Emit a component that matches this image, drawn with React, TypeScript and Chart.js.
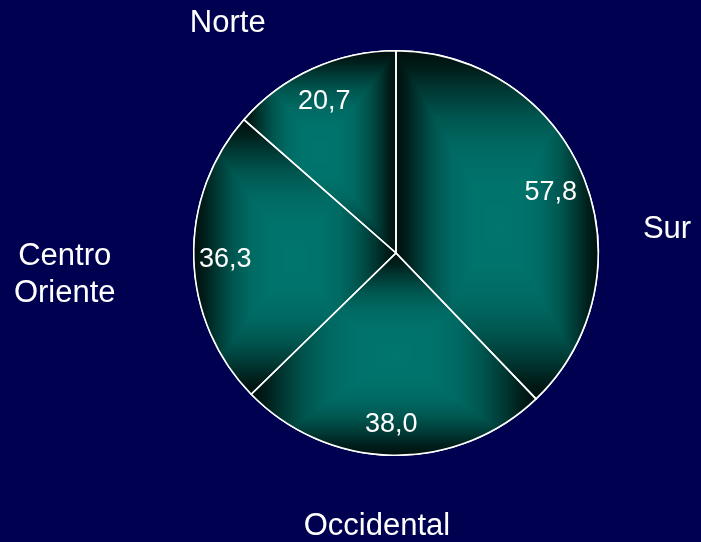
import { useEffect, useRef } from 'react';
import Chart from 'chart.js/auto';

// ---- data ----
const categories = ['Sur', 'Occidental', 'Centro Oriente', 'Norte'];
const values = [57.8, 38.0, 36.3, 20.7];
const categoryLines = [['Sur'], ['Occidental'], ['Centro', 'Oriente'], ['Norte']];

// ---- styling / layout (not data) ----
const BG = '#000050';
const FONT = '"Liberation Sans", Arial, sans-serif';
// offsets of category label (center x, first baseline y) relative to pie center, in units of radius
const catOffsets: [number, number][] = [
  [1.34, -0.075],
  [-0.094, 1.395],
  [-1.638, 0.06],
  [-0.832, -1.094],
];
const CAT_LINE_H = 37;

const brightStops: [number, number][] = [
  [0, 1],
  [0.25, 0.97],
  [0.45, 0.88],
  [0.62, 0.7],
  [0.78, 0.42],
  [0.9, 0.18],
  [1, 0.05],
];
const CENTER_RGB = [0, 118, 110];
const EDGE_RGB = [0, 10, 8];

function brightness(t: number) {
  for (let i = 1; i < brightStops.length; i++) {
    const [t1, b1] = brightStops[i];
    const [t0, b0] = brightStops[i - 1];
    if (t <= t1) return b0 + ((t - t0) / (t1 - t0)) * (b1 - b0);
  }
  return brightStops[brightStops.length - 1][1];
}

function arcPath(ctx: CanvasRenderingContext2D, x: number, y: number, r: number, a0: number, a1: number) {
  ctx.beginPath();
  ctx.moveTo(x, y);
  ctx.arc(x, y, r, a0, a1);
  ctx.closePath();
}

const shadePlugin = {
  id: 'shade',
  afterDatasetDraw(chart: any, args: any) {
    const meta = chart.getDatasetMeta(args.index);
    const ctx: CanvasRenderingContext2D = chart.ctx;
    meta.data.forEach((el: any) => {
      const { x, y, startAngle, endAngle, outerRadius } = el.getProps(
        ['x', 'y', 'startAngle', 'endAngle', 'outerRadius'],
        true
      );
      const r = outerRadius;
      const pts: [number, number][] = [
        [x, y],
        [x + r * Math.cos(startAngle), y + r * Math.sin(startAngle)],
        [x + r * Math.cos(endAngle), y + r * Math.sin(endAngle)],
      ];
      const q = Math.PI / 2;
      for (let k = Math.ceil(startAngle / q); k * q <= endAngle; k++) {
        pts.push([x + r * Math.cos(k * q), y + r * Math.sin(k * q)]);
      }
      const minX = Math.min(...pts.map((p) => p[0]));
      const maxX = Math.max(...pts.map((p) => p[0]));
      const minY = Math.min(...pts.map((p) => p[1]));
      const maxY = Math.max(...pts.map((p) => p[1]));
      const w = Math.max(1, Math.ceil(maxX - minX));
      const h = Math.max(1, Math.ceil(maxY - minY));
      const off = document.createElement('canvas');
      off.width = w;
      off.height = h;
      const octx = off.getContext('2d')!;
      const img = octx.createImageData(w, h);
      const hw = w / 2;
      const hh = h / 2;
      for (let py = 0; py < h; py++) {
        for (let px = 0; px < w; px++) {
          const t = Math.min(1, Math.max(Math.abs(px + 0.5 - hw) / hw, Math.abs(py + 0.5 - hh) / hh));
          const b = brightness(t);
          const i = (py * w + px) * 4;
          img.data[i] = EDGE_RGB[0] + (CENTER_RGB[0] - EDGE_RGB[0]) * b;
          img.data[i + 1] = EDGE_RGB[1] + (CENTER_RGB[1] - EDGE_RGB[1]) * b;
          img.data[i + 2] = EDGE_RGB[2] + (CENTER_RGB[2] - EDGE_RGB[2]) * b;
          img.data[i + 3] = 255;
        }
      }
      octx.putImageData(img, 0, 0);
      ctx.save();
      arcPath(ctx, x, y, r, startAngle, endAngle);
      ctx.clip();
      ctx.drawImage(off, minX, minY, w, h);
      ctx.restore();
    });
    // borders on top
    meta.data.forEach((el: any) => {
      const { x, y, startAngle, endAngle, outerRadius } = el.getProps(
        ['x', 'y', 'startAngle', 'endAngle', 'outerRadius'],
        true
      );
      ctx.save();
      arcPath(ctx, x, y, outerRadius, startAngle, endAngle);
      ctx.strokeStyle = '#ffffff';
      ctx.lineWidth = 1.6;
      ctx.lineJoin = 'round';
      ctx.stroke();
      ctx.restore();
    });
  },
  afterDraw(chart: any) {
    const meta = chart.getDatasetMeta(0);
    const ctx: CanvasRenderingContext2D = chart.ctx;
    ctx.save();
    ctx.fillStyle = '#ffffff';
    ctx.textAlign = 'center';
    ctx.textBaseline = 'alphabetic';
    meta.data.forEach((el: any, i: number) => {
      const { x, y, startAngle, endAngle, outerRadius } = el.getProps(
        ['x', 'y', 'startAngle', 'endAngle', 'outerRadius'],
        true
      );
      const mid = (startAngle + endAngle) / 2;
      const d = outerRadius * 0.835;
      const fs = 27;
      ctx.font = `${fs}px ${FONT}`;
      const label = values[i].toFixed(1).replace('.', ',');
      ctx.fillText(label, x + d * Math.cos(mid) - 2, y + d * Math.sin(mid) + fs * 0.358);

      ctx.font = `31px ${FONT}`;
      const [ox, oy] = catOffsets[i];
      const lines = categoryLines[i];
      lines.forEach((ln, j) => {
        ctx.fillText(ln, x + ox * outerRadius, y + oy * outerRadius + j * CAT_LINE_H);
      });
    });
    ctx.restore();
  },
};

export default function App() {
  const ref = useRef<HTMLCanvasElement>(null);
  useEffect(() => {
    document.body.style.margin = '0';
    document.body.style.background = BG;
    const chart = new Chart(ref.current!, {
      type: 'pie',
      data: {
        labels: categories,
        datasets: [
          {
            data: values,
            backgroundColor: '#006a64',
            borderColor: '#ffffff',
            borderWidth: 1.5,
          },
        ],
      },
      options: {
        responsive: false,
        animation: false,
        layout: { padding: { left: 193, right: 102, top: 50, bottom: 86 } },
        plugins: {
          legend: { display: false },
          tooltip: { enabled: false },
        },
      },
      plugins: [shadePlugin],
    });
    return () => chart.destroy();
  }, []);
  return (
    <div style={{ position: 'absolute', left: 0, top: 0, width: 701, height: 542, background: BG }}>
      <canvas ref={ref} width={701} height={542} style={{ display: 'block', width: 701, height: 542 }} />
    </div>
  );
}
